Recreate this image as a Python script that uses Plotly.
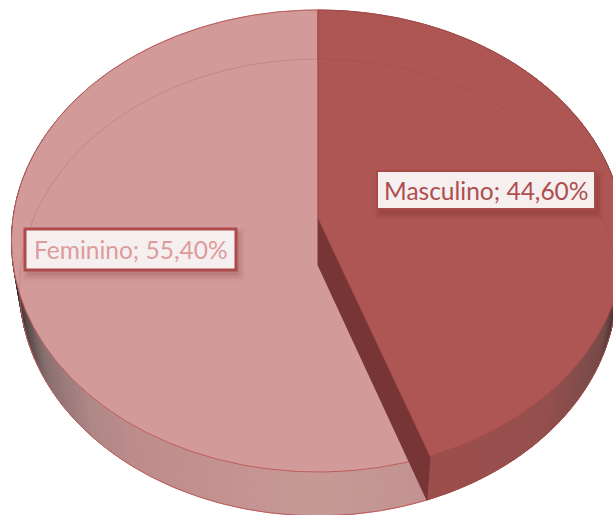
import numpy as np
from plotly import graph_objects as go

categories = ["Masculino", "Feminino"]
shares = [44.60, 55.40]

# tilted disc seen in perspective, all in page pixels
CX = 318
TOP_DISC = dict(y0=218, a=305, b=228.7, k=0.0996)
BOTTOM_DISC = dict(y0=265, a=297, b=226.2, k=0.0979)

TOP_COLORS = {"Masculino": "#ae5654", "Feminino": "#d39a9a"}
RIM_COLORS = {"Masculino": "#a24a48", "Feminino": "#bf5c5c"}
LABEL_COLORS = {"Masculino": "#ae4e4e", "Feminino": "#dd9c9c"}
WALL_COLOR = "#773535"

# side shade against horizontal distance from the centre
SIDE_STOPS = {
    "Masculino": [(0.0, "#a44d4b"), (0.7, "#95504e"), (0.9, "#754a48"), (0.97, "#3a2a2a"), (1.0, "#2e2626")],
    "Feminino": [(0.0, "#c89a96"), (0.56, "#bd8d8c"), (0.7, "#b08888"), (0.86, "#8a7070"), (0.96, "#453b3b"), (1.0, "#2e2a2a")],
}

LABEL_BOXES = {
    "Masculino": dict(x0=377, x1=595, y0=171, y1=209, line="#a84c4a", width=2),
    "Feminino": dict(x0=25, x1=236, y0=229, y1=270, line="#b04a4a", width=3),
}


def project(theta, disc):
    u, v = np.sin(theta), np.cos(theta)
    w = 1 + disc["k"] * v
    return CX + disc["a"] * u / w, disc["y0"] - disc["b"] * v / w


def shade(u, stops):
    pos = [s[0] for s in stops]
    rgb = np.array([[int(s[1][i:i + 2], 16) for i in (1, 3, 5)] for s in stops])
    vals = [np.interp(abs(u), pos, rgb[:, i]) for i in range(3)]
    return "rgb(%d,%d,%d)" % tuple(vals)


def angles(start, stop, step=0.5):
    n = max(int(abs(stop - start) / step), 2)
    return np.radians(np.linspace(start, stop, n + 1))


fig = go.Figure()


def add_poly(x, y, fill, line=None, width=1):
    fig.add_scatter(
        x=list(x), y=list(y), mode="lines", fill="toself", fillcolor=fill,
        line=dict(color=line or fill, width=width), hoverinfo="skip", showlegend=False,
    )


def add_side(name, start, stop):
    edges = np.degrees(angles(start, stop, 1.5))
    for a0, a1 in zip(edges[:-1], edges[1:]):
        th = angles(a0, a1, 0.5)
        tx, ty = project(th, TOP_DISC)
        bx, by = project(th[::-1], BOTTOM_DISC)
        color = shade(np.sin(np.radians((a0 + a1) / 2)), SIDE_STOPS[name])
        add_poly(np.r_[tx, bx, tx[0]], np.r_[ty, by, ty[0]], color)
    # lower rim of the side
    bx, by = project(angles(start, stop), BOTTOM_DISC)
    fig.add_scatter(x=bx, y=by, mode="lines", line=dict(color=RIM_COLORS[name], width=1),
                    hoverinfo="skip", showlegend=False)


def add_top(name, start, stop):
    x, y = project(angles(start, stop), TOP_DISC)
    add_poly(np.r_[CX, x, CX], np.r_[TOP_DISC["y0"], y, TOP_DISC["y0"]],
             TOP_COLORS[name], RIM_COLORS[name], 1)


cut = shares[0] / sum(shares) * 360

# Feminino first: Masculino and its cut wall sit in front of it
add_side("Feminino", cut, 360)
add_top("Feminino", cut, 360)
add_side("Masculino", 0, cut)

wx, wy = project(np.radians([cut]), TOP_DISC)
bx, by = project(np.radians([cut]), BOTTOM_DISC)
add_poly([CX, wx[0], bx[0], CX, CX], [TOP_DISC["y0"], wy[0], by[0], BOTTOM_DISC["y0"], TOP_DISC["y0"]], WALL_COLOR)

add_top("Masculino", 0, cut)

# far edge of the lower disc shows faintly through the top
fx, fy = project(angles(-100, 100), BOTTOM_DISC)
fig.add_scatter(x=fx, y=fy, mode="lines", line=dict(color="rgba(160,60,60,0.22)", width=1),
                hoverinfo="skip", showlegend=False)

shapes = []
annotations = []
for name, value in zip(categories, shares):
    box = LABEL_BOXES[name]
    for grow, alpha in ((6, 0.03), (4, 0.05), (2, 0.06), (0, 0.07)):
        shapes.append(dict(
            type="rect", x0=box["x0"] + 3 - grow, x1=box["x1"] + 3 + grow,
            y0=box["y0"] + 5 - grow, y1=box["y1"] + 5 + grow,
            fillcolor=f"rgba(90,20,20,{alpha})", line=dict(width=0),
        ))
    shapes.append(dict(
        type="rect", x0=box["x0"], x1=box["x1"], y0=box["y0"], y1=box["y1"],
        fillcolor="#f6efef", line=dict(color=box["line"], width=box["width"]),
    ))
    annotations.append(dict(
        x=(box["x0"] + box["x1"]) / 2, y=(box["y0"] + box["y1"]) / 2,
        text=f"{name}; {value:.2f}%".replace(".", ","), showarrow=False,
        font=dict(family="Lato", size=24.5, color=LABEL_COLORS[name]),
    ))

fig.update_layout(
    width=613, height=515, margin=dict(l=0, r=0, t=0, b=0),
    paper_bgcolor="white", plot_bgcolor="white", showlegend=False,
    shapes=shapes, annotations=annotations,
    xaxis=dict(range=[0, 613], visible=False, fixedrange=True),
    yaxis=dict(range=[515, 0], visible=False, fixedrange=True),
)

fig.write_html("out.html", config={"displayModeBar": False},
               post_script="document.body.style.margin='0';document.body.style.overflow='hidden';")
